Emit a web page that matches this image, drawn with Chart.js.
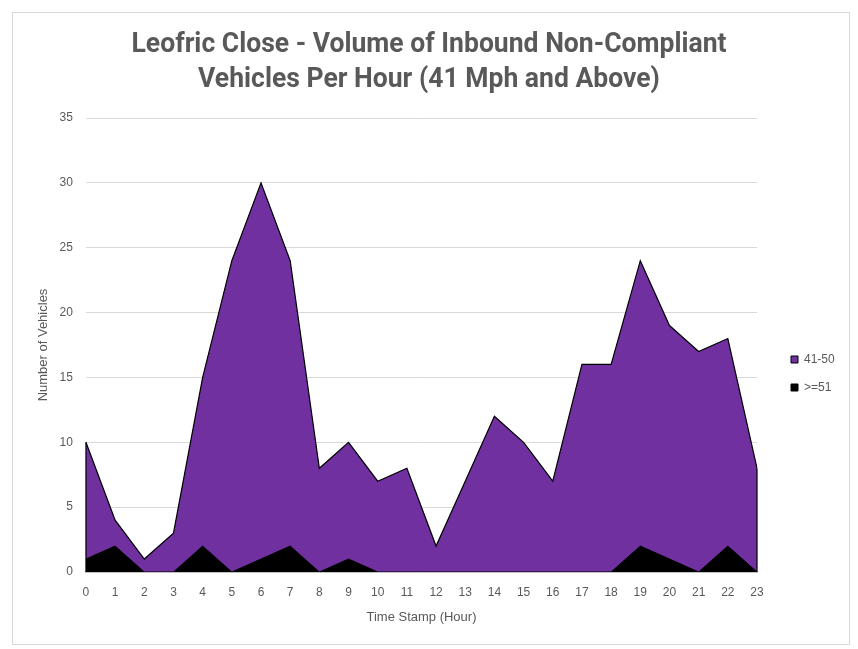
<!DOCTYPE html>
<html>
<head>
<meta charset="utf-8">
<script src="https://cdn.jsdelivr.net/npm/chart.js@4.4.0/dist/chart.umd.min.js"></script>
<style>
  body { margin: 0; background: #fff; }
  #box {
    position: absolute; left: 12px; top: 12px;
    width: 838px; height: 633px;
    border: 1px solid #d9d9d9; box-sizing: border-box;
  }
</style>
</head>
<body>
<div id="box"><canvas id="myChart"></canvas></div>
<script>
const hours = ["0","1","2","3","4","5","6","7","8","9","10","11","12","13","14","15","16","17","18","19","20","21","22","23"];
const speed41to50 = [10, 4, 1, 3, 15, 24, 30, 24, 8, 10, 7, 8, 2, 7, 12, 10, 7, 16, 16, 24, 19, 17, 18, 8];
const speed51plus = [1, 2, 0, 0, 2, 0, 1, 2, 0, 1, 0, 0, 0, 0, 0, 0, 0, 0, 0, 2, 1, 0, 2, 0];
const seriesNames = ["41-50", ">=51"];
const titleLines = ['Leofric Close - Volume of Inbound Non-Compliant', 'Vehicles Per Hour (41 Mph and Above)'];

const grey = '#595959';
const myChart = document.getElementById("myChart");

// narrow bold title (no condensed font installed, so squeeze Roboto)
const narrowTitle = {
  id: 'narrowTitle',
  afterDraw(chart) {
    const ctx = chart.ctx;
    ctx.save();
    ctx.font = 'bold 27px Roboto';
    ctx.fillStyle = grey;
    ctx.textAlign = 'center';
    ctx.textBaseline = 'alphabetic';
    const squeeze = 595 / ctx.measureText(titleLines[0]).width;
    const cx = chart.width / 2 - 2;
    ctx.translate(cx, 0);
    ctx.scale(squeeze, 1);
    ctx.fillText(titleLines[0], 0, 39);
    ctx.fillText(titleLines[1], 0, 74);
    ctx.restore();
  }
};

// Excel outlines the side edges of the area too
const areaEdges = {
  id: 'areaEdges',
  afterDatasetDraw(chart, args) {
    if (args.index !== 0) return;
    const pts = args.meta.data;
    const y0 = chart.scales.y.getPixelForValue(0);
    const ctx = chart.ctx;
    ctx.save();
    ctx.strokeStyle = '#000';
    ctx.lineWidth = 1.2;
    ctx.beginPath();
    ctx.moveTo(pts[0].x, pts[0].y);
    ctx.lineTo(pts[0].x, y0);
    ctx.moveTo(pts[pts.length - 1].x, pts[pts.length - 1].y);
    ctx.lineTo(pts[pts.length - 1].x, y0);
    ctx.stroke();
    ctx.restore();
  }
};

// legend sits a bit further from the plot than chart.js puts it
const legendGap = {
  id: 'legendGap',
  afterLayout(chart) {
    chart.legend.left += 18;
    chart.legend.right += 18;
  }
};

let areaChart = new Chart(myChart, {
  type: 'line',
  data: {
    labels: hours,
    datasets: [{
      label: seriesNames[0],
      data: speed41to50,
      backgroundColor: '#7030a0',
      borderColor: '#000000',
      borderWidth: 1.2,
      fill: 'origin',
      pointRadius: 0,
      order: 1
    }, {
      label: seriesNames[1],
      data: speed51plus,
      backgroundColor: '#000000',
      borderColor: '#000000',
      borderWidth: 1,
      fill: 'origin',
      pointRadius: 0,
      order: 0
    }]
  },
  plugins: [narrowTitle, areaEdges, legendGap],
  options: {
    responsive: true,
    maintainAspectRatio: false,
    animation: false,
    layout: { padding: { left: 8, right: 4, top: 105, bottom: 15 } },
    plugins: {
      title: { display: false },
      legend: {
        position: 'right',
        labels: {
          sort: (a, b) => a.datasetIndex - b.datasetIndex,
          boxWidth: 7,
          boxHeight: 7,
          padding: 16,
          color: grey,
          font: { family: 'Liberation Sans', size: 12 },
          generateLabels: chart => chart.data.datasets.map((ds, i) => ({
            text: ds.label,
            fillStyle: ds.backgroundColor,
            strokeStyle: '#000',
            lineWidth: 1,
            datasetIndex: i,
            fontColor: grey
          }))
        }
      },
      tooltip: { enabled: false }
    },
    scales: {
      x: {
        afterFit: s => { s.paddingRight = 92; },
        grid: { display: false },
        border: { display: true, color: '#a6a6a6', width: 1.5 },
        ticks: { color: grey, font: { family: 'Liberation Sans', size: 12 }, maxRotation: 0, padding: 5 },
        title: { display: true, text: 'Time Stamp (Hour)', color: grey, font: { family: 'Liberation Sans', size: 13 }, padding: { top: 5 } }
      },
      y: {
        min: 0,
        max: 35,
        afterFit: s => { s.width -= 13; },
        ticks: { stepSize: 5, color: grey, font: { family: 'Liberation Sans', size: 12 }, padding: 13 },
        grid: { color: '#d9d9d9', drawTicks: false },
        border: { display: false },
        title: { display: true, text: 'Number of Vehicles', color: grey, font: { family: 'Liberation Sans', size: 13 }, padding: { top: 15, bottom: 8 } }
      }
    }
  }
});
</script>
</body>
</html>
